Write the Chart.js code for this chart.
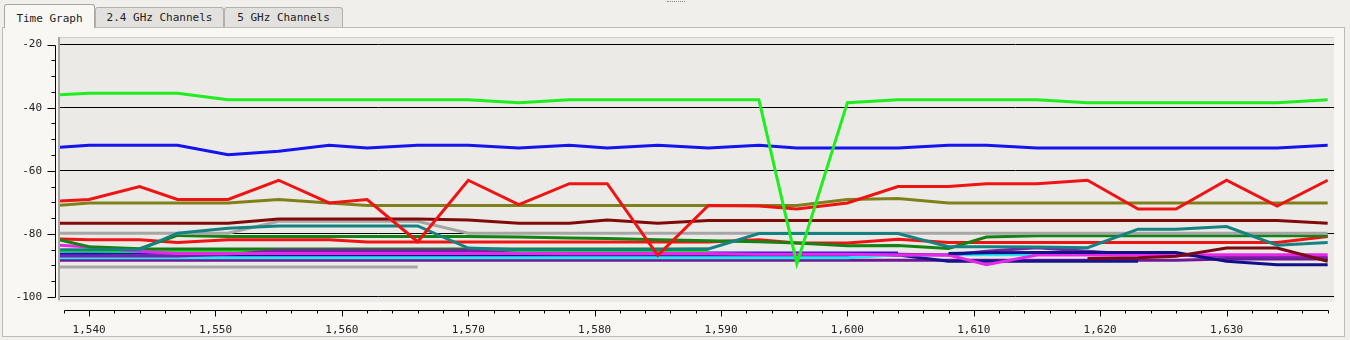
<!DOCTYPE html>
<html>
<head>
<meta charset="utf-8">
<script src="https://cdn.jsdelivr.net/npm/chart.js@4.4.1/dist/chart.umd.min.js"></script>
<style>
html,body{margin:0;padding:0;width:1350px;height:340px;overflow:hidden;background:#F1EFEB;font-family:'DejaVu Sans Mono','Liberation Mono',monospace;}
#grip{position:absolute;left:667px;top:1px;width:18px;height:0;border-top:1px dotted #8a8884;}
#panel{position:absolute;left:2px;top:27px;width:1343px;height:310px;background:#F9F7F4;border:1px solid #BDBBB7;box-sizing:border-box;}
.tab{position:absolute;top:7px;height:20px;background:#E3E1DD;border:1px solid #B3B1AD;border-bottom:none;border-radius:3px 3px 0 0;font-size:11px;line-height:20px;text-align:center;color:#222;box-sizing:border-box;overflow:hidden;}
.tab.active{top:4px;height:24px;line-height:27px;background:#F9F7F4;z-index:2;border-color:#A9A7A3;}
canvas{position:absolute;left:0;top:0;}
</style>
</head>
<body>
<div id="grip"></div>
<div id="panel"></div>
<div class="tab active" style="left:4px;width:91px;">Time Graph</div>
<div class="tab" style="left:95px;width:129px;">2.4 GHz Channels</div>
<div class="tab" style="left:224px;width:119px;">5 GHz Channels</div>
<canvas id="c" width="1350" height="340"></canvas>
<script>
// ---- data ----
const X_VALUES = [1537.7,1540,1544,1547,1551,1555,1559,1562,1566,1570,1574,1578,1581,1585,1589,1593,1596,1600,1604,1608,1611,1615,1619,1623,1626,1630,1634,1638];
const X_TICK_VALUES = [1540,1550,1560,1570,1580,1590,1600,1610,1620,1630];
const X_TICK_LABELS = ['1,540','1,550','1,560','1,570','1,580','1,590','1,600','1,610','1,620','1,630'];
const Y_TICK_VALUES = [-20,-40,-60,-80,-100];
const Y_TICK_LABELS = ['-20','-40','-60','-80','-100'];

const lime      = [-35.9,-35.4,-35.4,-35.4,-37.5,-37.5,-37.5,-37.5,-37.5,-37.5,-38.4,-37.5,-37.5,-37.5,-37.5,-37.5,-89.5,-38.4,-37.5,-37.5,-37.5,-37.5,-38.4,-38.4,-38.4,-38.4,-38.4,-37.5];
const blue      = [-52.5,-51.9,-51.9,-51.9,-54.9,-53.8,-51.9,-52.8,-51.9,-51.9,-52.8,-51.9,-52.8,-51.9,-52.8,-51.9,-52.8,-52.8,-52.8,-51.9,-51.9,-52.8,-52.8,-52.8,-52.8,-52.8,-52.8,-51.9];
const redHigh   = [-69.6,-69.1,-65.0,-69.1,-69.1,-63.0,-70.2,-69.1,-82.5,-63.0,-70.7,-64.1,-64.1,-86.8,-71.0,-71.2,-72.1,-70.2,-65.0,-65.0,-64.1,-64.1,-63.0,-72.1,-72.1,-63.0,-71.2,-63.0];
const olive     = [-70.9,-70.2,-70.2,-70.2,-70.2,-69.1,-70.2,-71.0,-71.0,-71.0,-71.0,-71.0,-71.0,-71.0,-71.0,-71.0,-71.0,-69.1,-68.8,-70.2,-70.2,-70.2,-70.2,-70.2,-70.2,-70.2,-70.2,-70.2];
const maroon    = [-76.6,-76.6,-76.6,-76.6,-76.6,-75.3,-75.3,-75.3,-75.3,-75.6,-76.6,-76.6,-75.6,-76.6,-75.8,-75.8,-75.8,-75.8,-75.8,-75.8,-75.8,-75.8,-75.8,-75.8,-75.8,-75.8,-75.8,-76.6];
const grayHigh  = [-79.8,-79.8,-79.8,-79.8,-79.8,-76.0,-76.0,-76.0,-76.0,-79.8,-79.8,-79.8,-79.8,-79.8,-79.8,-79.8,-79.8,-79.8,-79.8,-79.8,-79.8,-79.8,-79.8,-79.8,-79.8,-79.8,-79.8,-79.8];
const teal      = [-85.0,-85.0,-85.0,-79.8,-78.2,-77.5,-77.5,-77.5,-77.5,-84.5,-85.0,-85.0,-85.0,-85.0,-84.8,-79.9,-79.9,-79.9,-79.9,-84.1,-84.1,-84.2,-84.4,-78.5,-78.5,-77.7,-83.6,-82.7];
const darkGreen = [-81.9,-84.1,-84.7,-80.5,-80.8,-80.8,-80.8,-80.8,-80.8,-80.8,-81.0,-81.3,-81.5,-81.9,-82.2,-82.5,-82.9,-83.8,-83.7,-84.6,-81.0,-80.6,-80.6,-80.6,-80.6,-80.6,-80.6,-80.6];
const redLow    = [-81.6,-81.9,-81.9,-82.7,-81.9,-81.9,-81.9,-82.6,-82.6,-82.6,-82.6,-82.6,-82.6,-82.6,-82.6,-81.9,-82.9,-82.9,-81.7,-82.7,-82.7,-82.7,-82.7,-82.7,-82.7,-82.7,-82.7,-80.8];
const maroon2   = [null,null,null,null,null,null,null,null,null,null,null,null,null,null,null,null,null,null,null,null,null,null,-87.8,-87.6,-87.1,-84.5,-84.5,-88.7];
const navy2     = [null,null,null,null,null,null,null,null,null,null,null,null,null,null,null,null,null,null,null,-86.2,-86.0,-85.9,-85.9,-85.9,-85.9,-88.7,-89.8,-89.8];
const purple2   = [-87.0,-87.0,-87.0,-87.0,-86.5,-85.3,-85.3,-85.3,-85.3,-85.3,-86.2,-86.5,-86.5,-86.5,-86.5,-86.5,-86.5,-86.5,-86.5,-86.7,-85.5,-84.4,-85.5,-86.5,-86.8,-87.2,-87.4,-87.4];
const darkGreen2= [null,null,-84.8,-84.8,-84.8,-84.8,-84.8,-84.8,-84.8,-84.8,-84.8,-84.8,-84.8,-84.8,-84.8,null,null,null,null,null,null,null,null,null,null,null,null,null];
const limeLow   = [-85.4,-85.5,-85.6,-85.6,-85.6,-85.6,-85.6,-85.6,-85.6,-85.6,-85.6,-85.6,-85.6,-85.6,-85.6,null,null,null,null,null,null,null,null,null,null,null,null,null];
const blueLow   = [-86.4,-86.2,-86.1,-86.1,-86.1,-86.1,-86.1,-86.1,-86.1,-86.1,-86.1,-86.1,-86.1,-86.1,-86.1,-86.1,-86.1,-86.1,-86.1,null,null,null,null,null,null,null,null,null];
const cyan      = [-87.6,-87.6,-87.6,-87.6,-87.6,-87.6,-87.6,-87.6,-87.6,-87.6,-87.6,-87.6,-87.6,-87.6,-87.6,-87.6,-87.6,-87.6,-86.6,-86.6,-86.6,-86.6,null,null,null,null,null,null];
const magenta   = [-83.6,-84.2,-85.6,-86.2,-86.2,-86.2,-86.2,-86.2,-86.2,-86.2,-86.2,-86.2,-86.2,-86.2,-86.2,-86.5,-86.5,-86.5,-86.7,-86.7,-89.8,-86.7,-86.7,-86.7,-86.7,-86.6,-86.6,-86.6];
const navy1     = [-87.0,-87.0,-87.0,-87.0,-87.0,-87.0,-87.0,-87.0,-87.0,-87.0,-87.0,-87.0,-87.0,-87.0,-87.0,-87.0,-87.0,-87.0,-86.7,-88.7,-88.7,-88.7,-88.7,-88.7,null,null,null,null];
const purple1   = [-88.4,-88.4,-88.4,-88.4,-88.4,-88.4,-88.4,-88.4,-88.4,-88.4,-88.4,-88.4,-88.4,-88.4,-88.4,-88.4,-88.4,-88.4,-88.4,-88.4,-88.4,-88.4,-88.4,-88.4,-88.4,-88.0,-88.0,-88.0];
const grayLow   = [-90.5,-90.5,-90.5,-90.5,-90.5,-90.5,-90.5,-90.5,-90.5,null,null,null,null,null,null,null,null,null,null,null,null,null,null,null,null,null,null,null];

// ---- styles (top-most first) ----
const SERIES = [
  [lime,'#1EEE1E'],[redHigh,'#EE1414'],[blue,'#1414EE'],[olive,'#80801A'],
  [teal,'#158282'],[maroon,'#800A0A'],[grayHigh,'#A6A6A6'],[darkGreen,'#148214'],
  [redLow,'#EE1414'],[maroon2,'#7A0A14'],[navy2,'#10108A'],[magenta,'#E828E8'],
  [purple2,'#7A20A8'],[darkGreen2,'#1A7A1A'],[limeLow,'#22E622'],[blueLow,'#1010EE'],
  [cyan,'#28E6F0'],[navy1,'#14148C'],[purple1,'#6E1896'],[grayLow,'#A6A6A6']
];

const datasets = SERIES.map(([arr,color]) => ({
  data: X_VALUES.map((x,i)=>({x:x, y:arr[i]})),
  borderColor: color, backgroundColor: color, borderWidth: 3,
  pointRadius: 0, tension: 0, fill: false, spanGaps: false
}));

const FONT = {family:"'DejaVu Sans Mono','Liberation Mono',monospace", size:11};

const frame = {
  id:'frame',
  beforeDraw(chart){
    const {ctx, chartArea:a} = chart;
    ctx.save();
    ctx.fillStyle = '#ECEAE6';
    ctx.fillRect(a.left-2, a.top-1, a.right-a.left+2, a.bottom-a.top+1);
    ctx.fillStyle = '#D2D0CC';
    ctx.fillRect(a.left-2, a.top-1, a.right-a.left+2, 1);
    ctx.fillStyle = '#A8A6A2';
    ctx.fillRect(a.left-2, a.top-1, 2, a.bottom-a.top-1);
    ctx.restore();
  },
  afterDraw(chart){
    const {ctx, chartArea:a} = chart;
    const ys = chart.scales.y, xs = chart.scales.x;
    ctx.save();
    ctx.strokeStyle = '#000'; ctx.lineWidth = 1;
    // y ruler
    const rx = a.left - 4.5;
    ctx.beginPath();
    ctx.moveTo(rx, Math.round(ys.getPixelForValue(-20))+0.5);
    ctx.lineTo(rx, Math.round(ys.getPixelForValue(-100))+0.5);
    for (let v=-100; v<=-20; v+=5){
      const py = Math.round(ys.getPixelForValue(v))+0.5;
      const len = (v%20===0) ? 8 : 4;
      ctx.moveTo(rx-len, py); ctx.lineTo(rx, py);
    }
    ctx.stroke();
    // x ruler
    const ry = a.bottom + 8.5;
    ctx.beginPath();
    ctx.moveTo(Math.round(xs.getPixelForValue(1538))+0.5, ry);
    ctx.lineTo(Math.round(xs.getPixelForValue(1638))+0.5, ry);
    for (let v=1538; v<=1638; v+=2){
      const px = Math.round(xs.getPixelForValue(v))+0.5;
      const len = (v%10===0) ? 6 : 3;
      ctx.moveTo(px, ry); ctx.lineTo(px, ry+len);
    }
    ctx.stroke();
    ctx.restore();
  }
};

new Chart(document.getElementById('c'), {
  type:'line',
  data:{datasets},
  plugins:[frame],
  options:{
    responsive:false, animation:false, devicePixelRatio:1,
    layout:{padding:{left:0, top:38, right:16, bottom:0}},
    plugins:{legend:{display:false}, tooltip:{enabled:false}},
    scales:{
      x:{
        type:'linear', min:1537.7, max:1638.5,
        afterFit(s){ s.height = 38; },
        afterBuildTicks(s){ s.ticks = X_TICK_VALUES.map(v=>({value:v})); },
        ticks:{autoSkip:false, maxRotation:0, padding:14, color:'#222', font:FONT,
          callback:(v)=>{ const i = X_TICK_VALUES.indexOf(v); return i>=0 ? X_TICK_LABELS[i] : ''; }},
        grid:{display:false}, border:{display:false}
      },
      y:{
        type:'linear', min:-101.6, max:-17.9,
        afterFit(s){ s.width = 60; },
        afterBuildTicks(s){ const t=[]; for(let v=-100; v<=-20; v+=5) t.push({value:v}); s.ticks = t; },
        ticks:{autoSkip:false, padding:18, color:'#222', font:FONT,
          callback:(v)=>{ const i = Y_TICK_VALUES.indexOf(v); return i>=0 ? Y_TICK_LABELS[i] : ''; }},
        grid:{drawTicks:false, lineWidth:1,
          color:(ctx)=> (ctx.tick && Y_TICK_VALUES.indexOf(ctx.tick.value)>=0) ? '#000' : 'rgba(0,0,0,0)'},
        border:{display:false}
      }
    }
  }
});
</script>
</body>
</html>
